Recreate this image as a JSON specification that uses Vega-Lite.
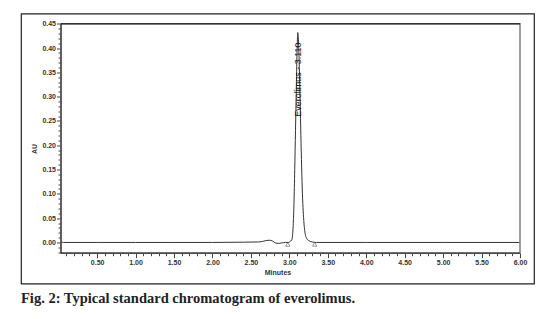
{
  "$schema": "https://vega.github.io/schema/vega-lite/v6.json",
  "width": 513,
  "height": 270,
  "autosize": "none",
  "padding": {"left": 21, "top": 13.5, "right": 7, "bottom": 35},
  "background": "white",
  "config": {
    "view": {"stroke": "#222", "strokeWidth": 1.2, "fill": "white"},
    "axis": {
      "domain": false,
      "grid": false,
      "labelFont": "Liberation Sans",
      "labelFontWeight": "bold",
      "labelFontSize": 7,
      "labelColor": "#333",
      "tickColor": "#444",
      "tickWidth": 1,
      "titleFont": "Liberation Sans",
      "titleFontWeight": "bold",
      "titleFontSize": 7,
      "titleColor": "#333"
    }
  },
  "title": {
    "text": "Fig. 2: Typical standard chromatogram of everolimus.",
    "orient": "bottom",
    "anchor": "start",
    "font": "Liberation Serif",
    "fontSize": 14.5,
    "fontWeight": "bold",
    "color": "#222",
    "offset": 8
  },
  "resolve": {"axis": {"x": "independent", "y": "independent"}},
  "layer": [
    {
      "data": {"values": [
        {"time": 0.03, "au": 0.002},
        {"time": 0.06, "au": 0.0},
        {"time": 0.5, "au": 0.0},
        {"time": 1.0, "au": 0.0},
        {"time": 1.5, "au": 0.0},
        {"time": 2.0, "au": 0.0},
        {"time": 2.4, "au": 0.0005},
        {"time": 2.6, "au": 0.001},
        {"time": 2.65, "au": 0.002},
        {"time": 2.7, "au": 0.004},
        {"time": 2.74, "au": 0.0045},
        {"time": 2.78, "au": 0.003},
        {"time": 2.82, "au": -0.001},
        {"time": 2.86, "au": -0.002},
        {"time": 2.9, "au": -0.001},
        {"time": 2.95, "au": 0.0},
        {"time": 2.99, "au": 0.0},
        {"time": 3.01, "au": 0.002},
        {"time": 3.03, "au": 0.005},
        {"time": 3.04, "au": 0.012},
        {"time": 3.05, "au": 0.035},
        {"time": 3.06, "au": 0.08},
        {"time": 3.07, "au": 0.15},
        {"time": 3.08, "au": 0.23},
        {"time": 3.09, "au": 0.31},
        {"time": 3.1, "au": 0.39},
        {"time": 3.11, "au": 0.432},
        {"time": 3.12, "au": 0.41},
        {"time": 3.13, "au": 0.36},
        {"time": 3.14, "au": 0.29},
        {"time": 3.15, "au": 0.22},
        {"time": 3.16, "au": 0.155},
        {"time": 3.17, "au": 0.1},
        {"time": 3.18, "au": 0.065},
        {"time": 3.19, "au": 0.04},
        {"time": 3.2, "au": 0.024},
        {"time": 3.22, "au": 0.01},
        {"time": 3.25, "au": 0.004},
        {"time": 3.3, "au": 0.001},
        {"time": 3.35, "au": 0.0},
        {"time": 4.0, "au": 0.0},
        {"time": 5.0, "au": 0.0},
        {"time": 6.0, "au": 0.0}
      ]},
      "mark": {"type": "line", "color": "#333", "strokeWidth": 1, "interpolate": "monotone"},
      "encoding": {
        "x": {
          "field": "time",
          "type": "quantitative",
          "scale": {"domain": [-0.4903, 6.1821], "nice": false, "zero": false},
          "axis": {
            "title": "Minutes",
            "orient": "bottom",
            "offset": -30.8,
            "values": [0.5,1.0,1.5,2.0,2.5,3.0,3.5,4.0,4.5,5.0,5.5,6.0],
            "format": ".2f",
            "tickSize": 5,
            "labelPadding": 1,
            "labelFlush": false,
            "labelOverlap": false,
            "titlePadding": 3
          }
        },
        "y": {
          "field": "au",
          "type": "quantitative",
          "scale": {"domain": [-0.0845, 0.4712], "nice": false, "zero": false},
          "axis": {
            "title": "AU",
            "orient": "left",
            "offset": -39.5,
            "values": [0.0,0.05,0.1,0.15,0.2,0.25,0.3,0.35,0.4,0.45],
            "format": ".2f",
            "tickSize": 4,
            "labelPadding": 1,
            "labelFlush": false,
            "labelOverlap": false,
            "titlePadding": 4
          }
        }
      }
    },
    {
      "data": {"values": [{"k": 1}]},
      "mark": {"type": "rect", "fill": "transparent", "stroke": "#888", "strokeWidth": 1.6},
      "encoding": {
        "x": {"datum": 0.03, "type": "quantitative",
          "axis": {
            "title": null,
            "orient": "bottom",
            "offset": -30.8,
            "values": [0.1,0.2,0.3,0.4,0.6,0.7,0.8,0.9,1.1,1.2,1.3,1.4,1.6,1.7,1.8,1.9,2.1,2.2,2.3,2.4,2.6,2.7,2.8,2.9,3.1,3.2,3.3,3.4,3.6,3.7,3.8,3.9,4.1,4.2,4.3,4.4,4.6,4.7,4.8,4.9,5.1,5.2,5.3,5.4,5.6,5.7,5.8,5.9],
            "labels": false,
            "tickSize": 3
          }
        },
        "x2": {"datum": 6.0},
        "y": {"datum": -0.022, "type": "quantitative",
          "axis": {
            "title": null,
            "orient": "left",
            "offset": -39.5,
            "values": [-0.02,-0.01,0.01,0.02,0.03,0.04,0.06,0.07,0.08,0.09,0.11,0.12,0.13,0.14,0.16,0.17,0.18,0.19,0.21,0.22,0.23,0.24,0.26,0.27,0.28,0.29,0.31,0.32,0.33,0.34,0.36,0.37,0.38,0.39,0.41,0.42,0.43,0.44],
            "labels": false,
            "tickSize": 2.5
          }
        },
        "y2": {"datum": 0.45}
      }
    },
    {
      "data": {"values": [{"k": 1}]},
      "mark": {"type": "rule", "color": "#333", "strokeWidth": 1.5},
      "encoding": {
        "y": {"datum": 0.45, "type": "quantitative", "axis": null},
        "x": {"datum": 0.03, "type": "quantitative", "axis": null},
        "x2": {"datum": 6.0}
      }
    },
    {
      "data": {"values": [{"k": 1}]},
      "mark": {"type": "rule", "color": "#222", "strokeWidth": 1},
      "encoding": {
        "x": {"datum": 0.03, "type": "quantitative", "axis": null},
        "y": {"datum": -0.022, "type": "quantitative", "axis": null},
        "y2": {"datum": 0.45}
      }
    },
    {
      "data": {"values": [{"k": 1}]},
      "mark": {"type": "rule", "color": "#222", "strokeWidth": 1},
      "encoding": {
        "y": {"datum": -0.022, "type": "quantitative", "axis": null},
        "x": {"datum": 0.03, "type": "quantitative", "axis": null},
        "x2": {"datum": 6.0}
      }
    },
    {
      "data": {"values": [
        {"time": 2.98, "au": -0.004},
        {"time": 3.33, "au": -0.004}
      ]},
      "mark": {"type": "point", "shape": "triangle-up", "filled": false, "size": 18, "stroke": "#444", "strokeWidth": 0.8},
      "encoding": {
        "x": {"field": "time", "type": "quantitative", "axis": null},
        "y": {"field": "au", "type": "quantitative", "axis": null}
      }
    },
    {
      "data": {"values": [
        {"time": 3.115, "au": 0.335, "label": "Everolimus - 3.110"}
      ]},
      "mark": {"type": "text", "angle": 270, "font": "Liberation Sans", "fontSize": 9, "color": "#111", "align": "center", "baseline": "middle"},
      "encoding": {
        "x": {"field": "time", "type": "quantitative", "axis": null},
        "y": {"field": "au", "type": "quantitative", "axis": null},
        "text": {"field": "label"}
      }
    }
  ]
}
